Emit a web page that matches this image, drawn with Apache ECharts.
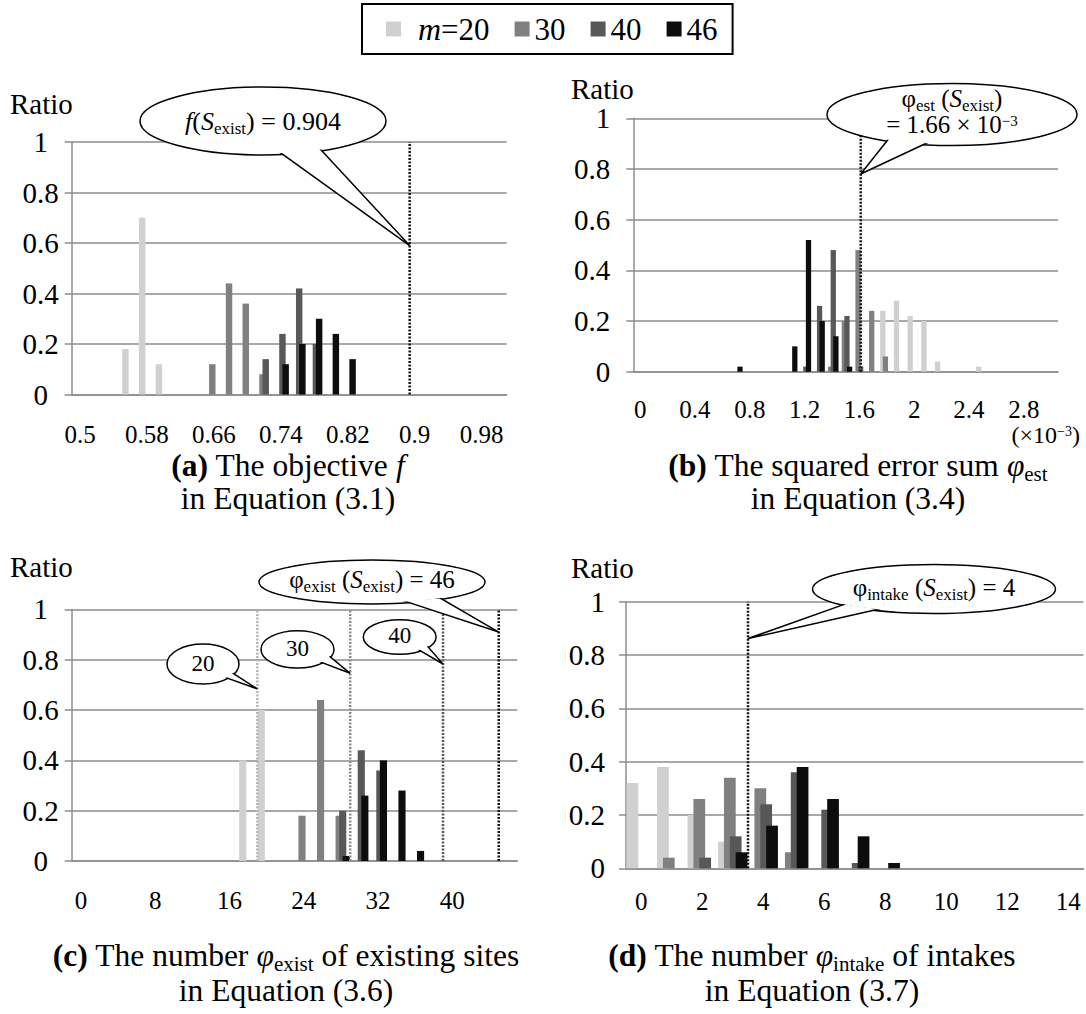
<!DOCTYPE html>
<html>
<head>
<meta charset="utf-8">
<script src="https://cdn.jsdelivr.net/npm/echarts@6/dist/echarts.min.js"></script>
<style>
  html, body { margin: 0; padding: 0; background: #fff; }
  #chart { width: 1086px; height: 1014px; }
</style>
</head>
<body>
<div id="chart"></div>
<script>
// ── Data ────────────────────────────────────────────────────────────────
const seriesNames = ['m=20', '30', '40', '46'];

// (a) objective f, bins of 0.02
const catsA = ['0.5','0.52','0.54','0.56','0.58','0.6','0.62','0.64','0.66','0.68','0.7','0.72','0.74',
               '0.76','0.78','0.8','0.82','0.84','0.86','0.88','0.9','0.92','0.94','0.96','0.98','1'];
const a20 = [0,0,0,0.18,0.70,0.12,0,0,0,0,0,0,0, 0,0,0,0,0,0,0,0,0,0,0,0,0];
const a30 = [0,0,0,0,0,0,0,0,0.12,0.44,0.36,0.08,0, 0,0,0,0,0,0,0,0,0,0,0,0,0];
const a40 = [0,0,0,0,0,0,0,0,0,0,0,0.14,0.24, 0.42,0.20,0,0,0,0,0,0,0,0,0,0,0];
const a46 = [0,0,0,0,0,0,0,0,0,0,0,0,0.12, 0.20,0.30,0.24,0.14,0,0,0,0,0,0,0,0,0];
const markA = [0.904];
const rangeA = [0.5, 1.02];

// (b) squared error sum (x10^-3), bins of 0.1
const catsB = ['0','0.1','0.2','0.3','0.4','0.5','0.6','0.7','0.8','0.9','1','1.1','1.2','1.3','1.4','1.5',
               '1.6','1.7','1.8','1.9','2','2.1','2.2','2.3','2.4','2.5','2.6','2.7','2.8','2.9','3'];
const b20 = [0,0,0,0,0,0,0,0,0,0,0,0,0,0,0,0, 0,0,0.24,0.28,0.22,0.20,0.04,0,0,0.02,0,0,0,0,0];
const b30 = [0,0,0,0,0,0,0,0,0,0,0,0,0,0,0.02,0.20, 0.48,0.24,0.06,0,0,0,0,0,0,0,0,0,0,0,0];
const b40 = [0,0,0,0,0,0,0,0,0,0,0,0,0.02,0.26,0.48,0.22, 0.02,0,0,0,0,0,0,0,0,0,0,0,0,0,0];
const b46 = [0,0,0,0,0,0,0,0.02,0,0,0,0.10,0.52,0.20,0.14,0.02, 0,0,0,0,0,0,0,0,0,0,0,0,0,0,0];
const markB = [1.66];
const rangeB = [0, 3.1];

// (c) number of existing sites, bins of 2
const catsC = ['0','2','4','6','8','10','12','14','16','18','20','22','24','26','28','30','32','34','36','38','40','42','44','46'];
const c20 = [0,0,0,0,0,0,0,0,0,0.40,0.60,0,0,0,0,0,0,0,0,0,0,0,0,0];
const c30 = [0,0,0,0,0,0,0,0,0,0,0,0,0.18,0.64,0.18,0,0,0,0,0,0,0,0,0];
const c40 = [0,0,0,0,0,0,0,0,0,0,0,0,0,0,0.20,0.44,0.36,0,0,0,0,0,0,0];
const c46 = [0,0,0,0,0,0,0,0,0,0,0,0,0,0,0.02,0.26,0.40,0.28,0.04,0,0,0,0,0];
const markC = [20, 30, 40, 46];
const rangeC = [0, 48];

// (d) number of intakes
const catsD = ['0','1','2','3','4','5','6','7','8','9','10','11','12','13','14'];
const d20 = [0.32,0.38,0.20,0.10,0,0,0,0,0,0,0,0,0,0,0];
const d30 = [0,0.04,0.26,0.34,0.30,0.06,0,0,0,0,0,0,0,0,0];
const d40 = [0,0,0.04,0.12,0.24,0.36,0.22,0.02,0,0,0,0,0,0,0];
const d46 = [0,0,0,0.06,0.16,0.38,0.26,0.12,0.02,0,0,0,0,0,0];
const markD = [4];
const rangeD = [0, 15];

// ── Style ───────────────────────────────────────────────────────────────
const FONT = 'Liberation Serif';
const seriesColors = ['#D0D0D0', '#808080', '#585858', '#0D0D0D'];
const gridGray = '#8C8C8C';

const panels = [
  { cats: catsA, vals: [a20, a30, a40, a46], marks: markA, range: rangeA, markColors: ['#111'],
    grid: { left: 71.7, top: 142, width: 435, height: 252.5 },
    labelEvery: 3, xMargin: 27, yAlign: 'center', yMargin: 31, ratio: [10, 104] },
  { cats: catsB, vals: [b20, b30, b40, b46], marks: markB, range: rangeB, markColors: ['#111'],
    grid: { left: 633.3, top: 118.3, width: 424.7, height: 253.4 },
    labelEvery: 3, xMargin: 25, yAlign: 'right', yMargin: 23, ratio: [571, 89] },
  { cats: catsC, vals: [c20, c30, c40, c46], marks: markC, range: rangeC,
    markColors: ['#B4B4B4', '#8A8A8A', '#555555', '#111'],
    grid: { left: 71.7, top: 609.4, width: 445.6, height: 251.6 },
    labelEvery: 3, xMargin: 27, yAlign: 'center', yMargin: 31, ratio: [10, 567] },
  { cats: catsD, vals: [d20, d30, d40, d46], marks: markD, range: rangeD, markColors: ['#111'],
    grid: { left: 626, top: 601.8, width: 457.5, height: 266.5 },
    labelEvery: 1, xMargin: 21, yAlign: 'right', yMargin: 21, ratio: [571, 568] },
];

const lineStyle = { color: gridGray, width: 1.5 };
const tok = (size, extra) => Object.assign(
  { fontFamily: FONT, fontSize: size, fontStyle: 'normal', fontWeight: 'normal', color: '#000' }, extra || {});
const grids = [], xAxes = [], yAxes = [], series = [];

panels.forEach((p, i) => {
  grids.push(Object.assign({ containLabel: false }, p.grid));
  xAxes[i] = {
    type: 'category', gridIndex: i, data: p.cats, boundaryGap: true,
    axisLine: { lineStyle },
    axisTick: { interval: 1, length: 7, lineStyle },
    axisLabel: Object.assign(tok(25), { interval: p.labelEvery, margin: p.xMargin }),
    splitLine: { show: false },
  };
  // hidden continuous axis spanning the same bins, for the reference lines
  xAxes[4 + i] = { type: 'value', gridIndex: i, min: p.range[0], max: p.range[1], show: false };
  yAxes.push({
    type: 'value', gridIndex: i, min: 0, max: 1, interval: 0.2,
    axisLine: { show: true, lineStyle },
    axisTick: { show: true, length: 7, lineStyle },
    splitLine: { lineStyle },
    axisLabel: Object.assign(tok(29), { align: p.yAlign, margin: p.yMargin }),
  });
  p.vals.forEach((vals, s) => {
    series.push({
      type: 'bar', name: seriesNames[s], xAxisIndex: i, yAxisIndex: i, data: vals,
      barWidth: '38.5%', barGap: '-50%', itemStyle: { color: seriesColors[s] }, silent: true,
    });
  });
  p.marks.forEach((m, k) => {
    series.push({
      type: 'line', xAxisIndex: 4 + i, yAxisIndex: i, data: [[m, 0], [m, 1]],
      symbol: 'none', silent: true, z: 5,
      lineStyle: { color: p.markColors[k], width: 2.5, type: [2, 1.5] },
    });
  });
});

const chart = echarts.init(document.getElementById('chart'), null, { renderer: 'svg' });
chart.setOption({
  animation: false,
  backgroundColor: '#fff',
  legend: {
    data: seriesNames, left: 362, top: 4, orient: 'horizontal', selectedMode: false,
    icon: 'rect', itemWidth: 15, itemHeight: 15, itemGap: 25,
    borderColor: '#000', borderWidth: 2, padding: [9, 15, 9, 24],
    textStyle: Object.assign(tok(31), {
      rich: { t: tok(31), i: tok(32, { fontStyle: 'italic', padding: [0, 0, 0, 12] }) } }),
    formatter: (name) => name === 'm=20' ? '{i|m}{t|=20}' : '{t|' + name + '}',
  },
  grid: grids,
  xAxis: xAxes,
  yAxis: yAxes,
  series: series,
});

// ── Annotations ─────────────────────────────────────────────────────────
function rich(size) {
  const f = (s, extra) => Object.assign(
    { fontFamily: FONT, fontSize: s, fontStyle: 'normal', fontWeight: 'normal', fill: '#000' }, extra || {});
  return {
    t: f(size),
    i: f(size, { fontStyle: 'italic' }),
    b: f(size, { fontWeight: 'bold' }),
    sub: f(Math.round(size * 0.66), { padding: [Math.round(size * 0.56), 0, 0, 0] }),
    sup: f(Math.round(size * 0.6), { padding: [0, 0, Math.round(size * 0.3), 0] }),
  };
}
function label(text, x, y, size, align) {
  return { type: 'text', z: 120, silent: true,
    style: { text, x, y, align: align || 'center', verticalAlign: 'middle',
      fontFamily: FONT, fontSize: size, fontStyle: 'normal', fontWeight: 'normal', fill: '#000', rich: rich(size) } };
}

const callouts = [
  { grid: 0, cx: 263, cy: 121, rx: 123, ry: 34, base: [279, 324], tip: [0.904, 0.59],
    lines: [['{i|f}{t|(}{i|S}{sub|exist}{t|) = 0.904}', 0]], size: 26 },
  { grid: 1, cx: 952, cy: 114.5, rx: 125, ry: 31, base: [884, 928], tip: [1.66, 0.78],
    lines: [['{t|φ}{sub|est}{t| (}{i|S}{sub|exist}{t|)}', -16], ['{t|= 1.66 × 10}{sup|−3}', 10]], size: 25 },
  { grid: 2, cx: 372, cy: 582, rx: 113, ry: 22, base: [406.6, 444.6], tip: [46, 0.91],
    lines: [['{t|φ}{sub|exist}{t| (}{i|S}{sub|exist}{t|) = 46}', -3]], size: 25 },
  { grid: 2, cx: 203, cy: 664, rx: 36, ry: 20, base: [226.6, 235.3], tip: [20, 0.684],
    lines: [['{t|20}', -1]], size: 23 },
  { grid: 2, cx: 297.5, cy: 649.4, rx: 36.5, ry: 18.7, base: [321.8, 332.2], tip: [30, 0.746],
    lines: [['{t|30}', -1]], size: 23 },
  { grid: 2, cx: 399.7, cy: 637, rx: 36.4, ry: 17.3, base: [420.4, 430.8], tip: [40, 0.783],
    lines: [['{t|40}', -2]], size: 23 },
  { grid: 3, cx: 934, cy: 589, rx: 121.5, ry: 24.5, base: [840.7, 875.7], tip: [4, 0.862],
    lines: [['{t|φ}{sub|intake}{t| (}{i|S}{sub|exist}{t|) = 4}', -2]], size: 25 },
];

const graphics = [];
callouts.forEach((c) => {
  const tip = chart.convertToPixel({ xAxisIndex: 4 + c.grid, yAxisIndex: c.grid }, c.tip);
  const pts = c.base.map((bx) => {
    const dx = (bx - c.cx) / c.rx;
    const ey = c.cy + c.ry * Math.sqrt(Math.max(0, 1 - dx * dx));
    const vx = c.cx - bx, vy = c.cy - ey, len = Math.hypot(vx, vy);
    return [bx + vx / len * 5, ey + vy / len * 5];
  });
  graphics.push({ type: 'ellipse', z: 100, silent: true,
    shape: { cx: c.cx, cy: c.cy, rx: c.rx, ry: c.ry },
    style: { fill: '#fff', stroke: '#000', lineWidth: 1.5 } });
  graphics.push({ type: 'polygon', z: 101, silent: true,
    shape: { points: [pts[0], tip, pts[1]] },
    style: { fill: '#fff', stroke: '#000', lineWidth: 1.5 } });
  graphics.push({ type: 'ellipse', z: 102, silent: true,
    shape: { cx: c.cx, cy: c.cy, rx: c.rx - 1.6, ry: c.ry - 1.6 },
    style: { fill: '#fff', stroke: null } });
  c.lines.forEach(([t, dy]) => graphics.push(label(t, c.cx, c.cy + dy, c.size)));
});

// axis names and unit
panels.forEach((p) => graphics.push(label('{t|Ratio}', p.ratio[0], p.ratio[1], 29, 'left')));
graphics.push(label('{t|(×10}{sup|−3}{t|)}', 1080, 435, 24, 'right'));

// captions
const captions = [
  ['{b|(a)}{t| The objective }{i|f}', '{t|in Equation (3.1)}', 288, 465, 498],
  ['{b|(b)}{t| The squared error sum }{i|φ}{sub|est}', '{t|in Equation (3.4)}', 858, 465, 498],
  ['{b|(c)}{t| The number }{i|φ}{sub|exist}{t| of existing sites}', '{t|in Equation (3.6)}', 286, 955, 990],
  ['{b|(d)}{t| The number }{i|φ}{sub|intake}{t| of intakes}', '{t|in Equation (3.7)}', 812, 955, 990],
];
captions.forEach(([l1, l2, x, y1, y2]) => {
  graphics.push(label(l1, x, y1, 31.5));
  graphics.push(label(l2, x, y2, 31.5));
});

chart.setOption({ graphic: graphics });
window.addEventListener('resize', () => chart.resize());
</script>
</body>
</html>
